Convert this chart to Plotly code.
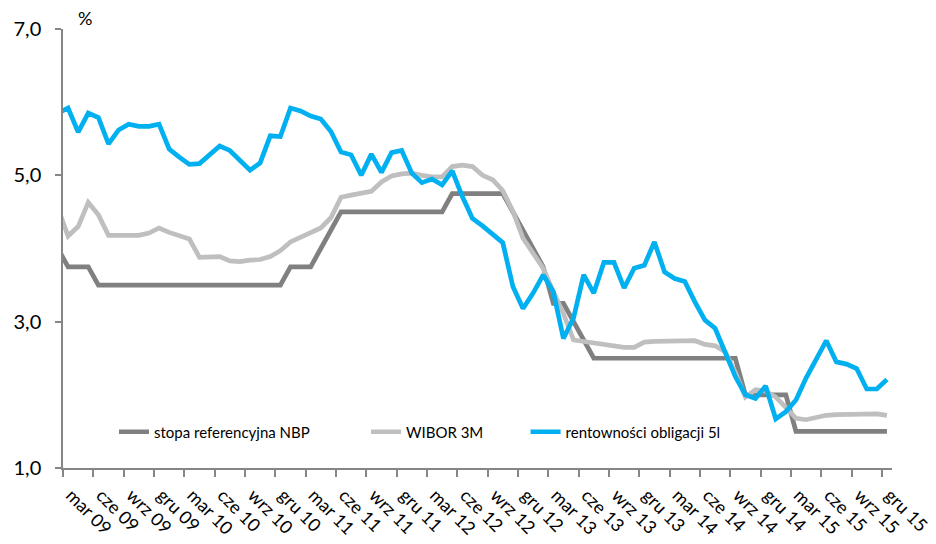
import plotly.graph_objects as go

# miesiące: od lut 09 do gru 15 (wartości na koniec miesiąca)
MIES = ["sty", "lut", "mar", "kwi", "maj", "cze", "lip", "sie", "wrz", "paź", "lis", "gru"]
LATA = ["09", "10", "11", "12", "13", "14", "15"]
miesiace = [f"{m} {r}" for r in LATA for m in MIES][1:]

stopa_nbp = [
    4.00, 3.75, 3.75, 3.75, 3.50, 3.50, 3.50, 3.50, 3.50, 3.50, 3.50,
    3.50, 3.50, 3.50, 3.50, 3.50, 3.50, 3.50, 3.50, 3.50, 3.50, 3.50, 3.50,
    3.75, 3.75, 3.75, 4.00, 4.25, 4.50, 4.50, 4.50, 4.50, 4.50, 4.50, 4.50,
    4.50, 4.50, 4.50, 4.50, 4.75, 4.75, 4.75, 4.75, 4.75, 4.75, 4.50, 4.25,
    4.00, 3.75, 3.25, 3.25, 3.00, 2.75, 2.50, 2.50, 2.50, 2.50, 2.50, 2.50,
    2.50, 2.50, 2.50, 2.50, 2.50, 2.50, 2.50, 2.50, 2.50, 2.00, 2.00, 2.00,
    2.00, 2.00, 1.50, 1.50, 1.50, 1.50, 1.50, 1.50, 1.50, 1.50, 1.50, 1.50,
]
wibor_3m = [
    4.55, 4.17, 4.30, 4.63, 4.46, 4.18, 4.18, 4.18, 4.18, 4.21, 4.28,
    4.22, 4.17, 4.13, 3.88, 3.88, 3.89, 3.83, 3.82, 3.84, 3.85, 3.89, 3.97,
    4.09, 4.15, 4.21, 4.28, 4.42, 4.70, 4.73, 4.75, 4.78, 4.91, 4.99, 5.02,
    5.03, 5.00, 4.98, 4.98, 5.12, 5.14, 5.12, 5.00, 4.94, 4.79, 4.51, 4.14,
    3.94, 3.73, 3.41, 3.11, 2.75, 2.73, 2.71, 2.70, 2.68, 2.65, 2.65, 2.72,
    2.73, 2.73, 2.73, 2.74, 2.74, 2.69, 2.67, 2.59, 2.31, 1.97, 2.07, 2.05,
    1.97, 1.83, 1.68, 1.66, 1.69, 1.72, 1.73, 1.73, 1.74, 1.74, 1.74, 1.72,
]
obligacje_5l = [
    5.85, 5.92, 5.59, 5.85, 5.79, 5.43, 5.62, 5.70, 5.67, 5.67, 5.70,
    5.36, 5.25, 5.15, 5.16, 5.28, 5.40, 5.34, 5.20, 5.07, 5.17, 5.54, 5.53,
    5.92, 5.88, 5.81, 5.77, 5.60, 5.32, 5.28, 5.00, 5.29, 5.04, 5.31, 5.34,
    5.03, 4.90, 4.95, 4.87, 5.06, 4.71, 4.41, 4.31, 4.19, 4.08, 3.48, 3.18,
    3.39, 3.64, 3.41, 2.77, 3.05, 3.64, 3.39, 3.81, 3.81, 3.46, 3.73, 3.77,
    4.09, 3.68, 3.59, 3.55, 3.27, 3.02, 2.91, 2.57, 2.25, 2.00, 1.95, 2.12,
    1.67, 1.77, 1.93, 2.23, 2.48, 2.74, 2.45, 2.42, 2.36, 2.08, 2.08, 2.21,
]

serie = [
    ("stopa referencyjna NBP", stopa_nbp, "#808080", "legend", 0.0615),
    ("WIBOR 3M", wibor_3m, "#BFBFBF", "legend2", 0.3655),
    ("rentowności obligacji 5l", obligacje_5l, "#00B0F0", "legend3", 0.558),
]

FONT = "Lato, 'Open Sans', sans-serif"
AXIS = "#868686"

x = list(range(len(miesiace)))
lab_pos = x[1::3]
lab_txt = miesiace[1::3]

fig = go.Figure()
layout_legends = {}
for name, vals, color, leg, lx in serie:
    fig.add_trace(go.Scatter(
        x=x, y=vals, name=name, mode="lines",
        line=dict(color=color, width=4.7),
        legend=leg,
    ))
    layout_legends[leg] = dict(
        x=lx, y=0.082, xanchor="left", yanchor="middle",
        bgcolor="rgba(0,0,0,0)", borderwidth=0,
        font=dict(family=FONT, size=15, color="#000000"),
    )

fig.update_layout(
    width=936, height=544,
    margin=dict(l=63, r=44, t=29, b=76),
    paper_bgcolor="white", plot_bgcolor="white",
    separators=", ",
    showlegend=True,
    font=dict(family=FONT, color="#000000"),
    xaxis=dict(
        range=[0.5, len(miesiace) - 0.5], automargin=False,
        tickmode="array", tickvals=lab_pos, ticktext=lab_txt,
        ticks="", tickangle=45,
        ticklabelstandoff=8, ticklabelshift=3,
        tickfont=dict(family=FONT, size=18, color="#000000"),
        showline=True, linecolor=AXIS, linewidth=1.5,
        showgrid=False, zeroline=False,
        minor=dict(tickmode="array", tickvals=[p - 0.5 for p in lab_pos],
                   ticks="outside", ticklen=7, tickcolor=AXIS, tickwidth=1.5,
                   showgrid=False),
    ),
    yaxis=dict(
        range=[1, 7], tick0=1, dtick=2, tickformat=".1f", automargin=False,
        ticks="outside", ticklen=6, tickcolor=AXIS, tickwidth=1.5,
        tickfont=dict(family=FONT, size=20, color="#000000"),
        ticklabelstandoff=10,
        showline=True, linecolor=AXIS, linewidth=1.5,
        showgrid=False, zeroline=False,
    ),
    annotations=[dict(
        text="%", xref="paper", yref="paper", x=0.027, y=1.025,
        xanchor="center", yanchor="middle", showarrow=False,
        font=dict(family=FONT, size=18, color="#000000"),
    )],
    **layout_legends,
)

fig.write_html(
    "out.html",
    config={"displayModeBar": False},
    post_script="document.body.style.margin = '0';",
)
